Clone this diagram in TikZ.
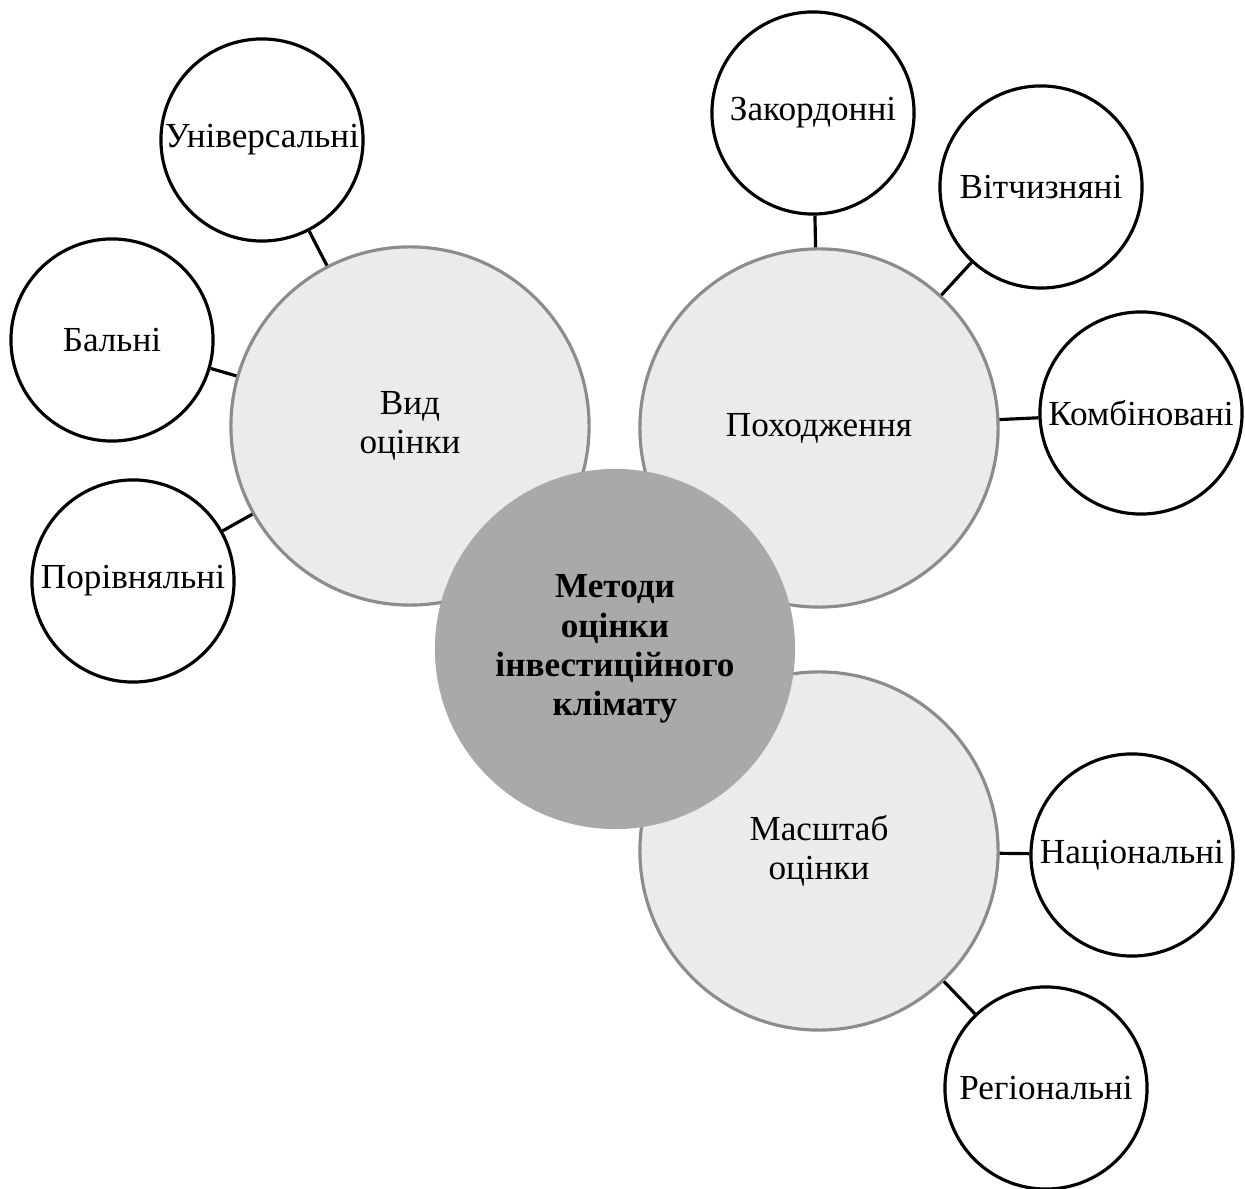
\documentclass[tikz,border=0pt]{standalone}
\usepackage{fontspec}
\setmainfont{Liberation Serif}
\usepackage{tikz}
\usetikzlibrary{positioning}
\definecolor{hubgray}{HTML}{A9A9A9}
\definecolor{midgray}{HTML}{EBEBEB}
\definecolor{rimgray}{HTML}{8C8C8C}
\tikzset{hub/.style={circle,fill=hubgray,minimum size=3.6cm,inner sep=0pt,align=center,
        font=\fontsize{10}{11.2}\selectfont\bfseries},
    group/.style={circle,draw=rimgray,line width=0.9pt,fill=midgray,minimum size=3.58cm,
        inner sep=0pt,align=center,font=\fontsize{10}{11.2}\selectfont},
    leaf/.style={circle,draw=black,line width=0.9pt,fill=white,minimum size=2.02cm,
        inner sep=0pt,align=center,font=\fontsize{10}{11.2}\selectfont},
    link/.style={draw,line width=0.9pt,-}}

\begin{document}
\begin{tikzpicture}[x=0.01cm,y=-0.01cm]
    \useasboundingbox (0,0) rectangle (1245,1189);
    \node[group] (Vid) at (410,426) {Вид\\оцінки};
    \node[group] (Pokh) at (819,428) {Походження};
    \node[group] (Masht) at (819,851) {Масштаб\\оцінки};
    \node[hub] (Metody) at (615,649) {Методи\\оцінки\\інвестиційного\\клімату};

    \foreach \pos/\name/\txt in {{(262,140)/Univ/Універсальні}, {(112,340)/Baln/Бальні},
            {(133,581)/Poriv/Порівняльні}, {(813,113)/Zakord/Закордонні},
            {(1041,187)/Vitch/Вітчизняні}, {(1141,413)/Komb/Комбіновані},
            {(1132,855)/Nats/Національні}, {(1046,1088)/Reg/Регіональні}}
        \node[leaf] (\name) at \pos {\txt};

    \foreach \source/\dest in {Vid/Univ, Vid/Baln, Vid/Poriv, Pokh/Zakord, Pokh/Vitch,
            Pokh/Komb, Masht/Nats, Masht/Reg}
        \path[link] (\source) -- (\dest);
\end{tikzpicture}
\end{document}
